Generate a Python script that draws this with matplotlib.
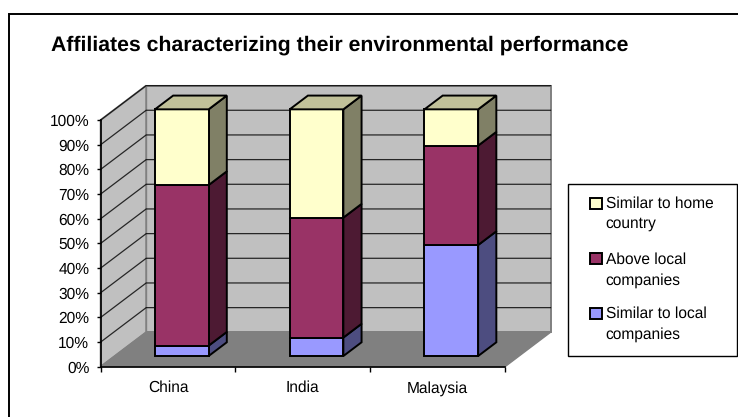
import matplotlib
matplotlib.use("Agg")
import matplotlib.pyplot as plt
from matplotlib.lines import Line2D
from matplotlib.patches import Polygon, Rectangle

plt.rcParams['font.family'] = ['Liberation Sans', 'DejaVu Sans']
plt.rcParams['text.hinting'] = 'no_hinting'

# Survey shares per country, in percent
categories = ["China", "India", "Malaysia"]
similar_local = [4.2, 7.5, 45.0]
above_local = [65.1, 48.6, 40.3]
similar_home = [30.7, 43.9, 14.7]
series_names = ["Similar to local\ncompanies", "Above local\ncompanies", "Similar to home\ncountry"]
y_ticks = list(range(0, 101, 10))
title = "Affiliates characterizing their environmental performance"

FRONT = "#9999FF", "#993366", "#FFFFCC"
SIDE = "#4D4D80", "#4D1A33", "#808066"
TOP = "#C1C199"

W, H = 738, 417
LABEL_PT = 11.2
fig = plt.figure(figsize=(W / 100, H / 100), dpi=100, facecolor="white")

# Chart frame: only its top and left edges fall inside the canvas
fig.add_artist(Line2D([8.7 / W, 8.7 / W, 1], [0, 1 - 14 / H, 1 - 14 / H], transform=fig.transFigure,
                      color="black", linewidth=1.4, solid_joinstyle="miter"))

# Axes spans the front plane of the 3-D box
L, R, T, B = 100.7, 505.0, 120.0, 366.7
ax = fig.add_axes([L / W, 1 - B / H, (R - L) / W, (B - T) / H])
ax.set_xlim(0, 3)
ax.set_ylim(0, 100)
ax.patch.set_visible(False)

DX = 45.5 / ((R - L) / 3)      # full box depth, in category units
DY = 34.4 / ((B - T) / 100)    # full box depth, in percent units


def pt(cat, val, depth=0.0):
    """Oblique projection of (category, value, depth 0..1) into axes data space."""
    return (cat + depth * DX, val + depth * DY)


def face(corners, **kw):
    ax.add_patch(Polygon([pt(*c) for c in corners], closed=True, clip_on=False, **kw))


WALL = "#C0C0C0"
WALL_EDGE = "#808080"
# Back wall, side wall and floor
face([(0, 0, 1), (3, 0, 1), (3, 100, 1), (0, 100, 1)], facecolor=WALL, edgecolor=WALL_EDGE, linewidth=1.4, zorder=1)
face([(0, 0, 0), (0, 0, 1), (0, 100, 1), (0, 100, 0)], facecolor=WALL, edgecolor=WALL_EDGE, linewidth=1.4, zorder=1)
face([(0, 0, 0), (3, 0, 0), (3, 0, 1), (0, 0, 1)], facecolor="#808080", edgecolor=WALL_EDGE, linewidth=1, zorder=1.5)

# Gridlines run along the side wall and across the back wall
for v in y_ticks[1:]:
    xs, ys = zip(pt(0, v, 0), pt(0, v, 1), pt(3, v, 1))
    ax.plot(xs, ys, color="black", lw=0.9, alpha=0.8, clip_on=False, zorder=2, solid_joinstyle="miter")

# Stacked 3-D columns
BAR_LEFT, BAR_W = 0.298, 0.398
D0, D1 = 0.31, 0.71
for i in range(len(categories)):
    base = 0.0
    x0, x1 = i + BAR_LEFT, i + BAR_LEFT + BAR_W
    stack = (similar_local[i], above_local[i], similar_home[i])
    for s, val in enumerate(stack):
        top = base + val
        style = dict(edgecolor="black", linewidth=1.4, joinstyle="miter", zorder=3 + i)
        face([(x1, base, D0), (x1, base, D1), (x1, top, D1), (x1, top, D0)], facecolor=SIDE[s], **style)
        face([(x0, base, D0), (x1, base, D0), (x1, top, D0), (x0, top, D0)], facecolor=FRONT[s], **style)
        base = top
    face([(x0, base, D0), (x1, base, D0), (x1, base, D1), (x0, base, D1)], facecolor=TOP, **style)

# Axis lines and ticks
for sp in ("top", "right"):
    ax.spines[sp].set_visible(False)
for sp in ("left", "bottom"):
    ax.spines[sp].set_linewidth(1.2)
    ax.spines[sp].set_zorder(2.5)
ax.set_yticks(y_ticks)
ax.set_yticklabels([f"{v}%" for v in y_ticks], fontsize=LABEL_PT, color="black")
ax.set_xticks(range(4))
ax.set_xticklabels([])
ax.set_xticks([i + 0.5 for i in range(3)], minor=True)
ax.set_xticklabels(categories, minor=True, fontsize=LABEL_PT)
ax.tick_params(axis="x", which="minor", length=0, pad=10)
ax.tick_params(axis="x", which="major", length=3.6, width=1, direction="out")
ax.tick_params(axis="y", length=2.9, width=1, pad=5.3, direction="out")

fig.text(51 / W, 1 - 51 / H, title, fontsize=15.3, fontweight="bold", va="baseline", ha="left")

# Legend box with wrapped entries, top entry is the last series
fig.add_artist(Rectangle((568 / W, 1 - 356 / H), 168.7 / W, 172 / H, transform=fig.transFigure,
                         facecolor="white", edgecolor="black", linewidth=1))
legend_rows = [(203, 213.6, 2), (258.3, 270, 1), (313, 324.3, 0)]
for y_swatch, y_text, s in legend_rows:
    fig.add_artist(Rectangle((590 / W, 1 - (y_swatch + 5.5) / H), 11.5 / W, 11 / H, transform=fig.transFigure,
                             facecolor=FRONT[s], edgecolor="black", linewidth=1.4))
    fig.text(605.5 / W, 1 - y_text / H, series_names[s], fontsize=LABEL_PT, va="center", ha="left", linespacing=1.5)

fig.savefig("out.png", dpi=100)
